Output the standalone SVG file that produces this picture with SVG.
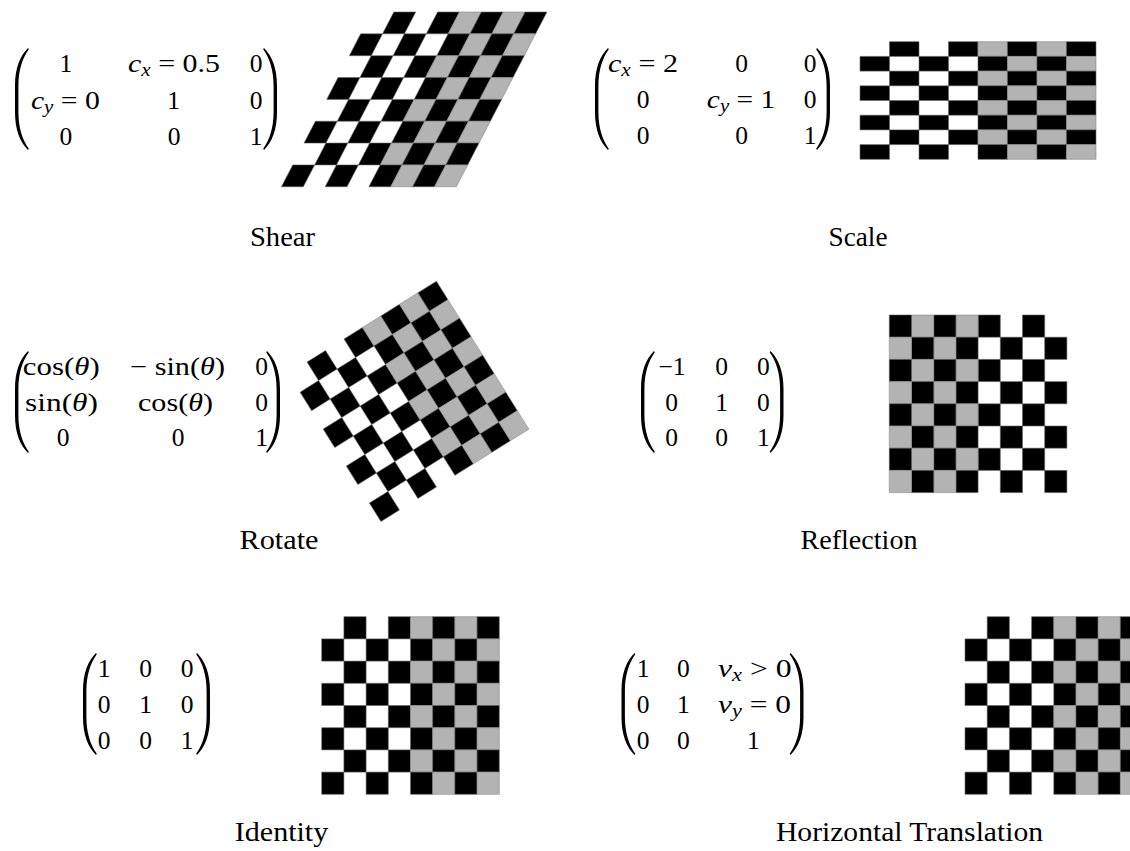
<svg xmlns="http://www.w3.org/2000/svg" xmlns:xlink="http://www.w3.org/1999/xlink" width="1130" height="851" viewBox="0 0 1130 851">
<style>
.m{font-family:"Liberation Serif","Times New Roman",serif;font-size:25.5px;fill:#000;text-anchor:middle}
.lbl{font-family:"Liberation Serif","Times New Roman",serif;font-size:27px;fill:#000;text-anchor:middle}
.i{font-style:italic}
.sub{font-size:18px;font-style:italic}
.k{fill:#000;stroke:#666;stroke-width:0.6}
.g{fill:#b3b3b3;stroke:#888;stroke-width:0.6}
.p{fill:#000}
</style>
<defs>
<path id="lp" class="p" d="M13,0 C5,8 0,20 0,38 L0,64 C0,82 5,94 13,102 L13.8,100.8 C7.5,92 3.4,80 3.4,64 L3.4,38 C3.4,22 7.5,10 13.8,1.2 Z"/>
<g id="rowE">
<rect class="k" x="22.2" y="0" width="22.2" height="22.2" vector-effect="non-scaling-stroke"/>
<rect class="k" x="66.6" y="0" width="22.2" height="22.2" vector-effect="non-scaling-stroke"/>
<rect class="g" x="88.8" y="0" width="22.2" height="22.2" vector-effect="non-scaling-stroke"/>
<rect class="k" x="111" y="0" width="22.2" height="22.2" vector-effect="non-scaling-stroke"/>
<rect class="g" x="133.2" y="0" width="22.2" height="22.2" vector-effect="non-scaling-stroke"/>
<rect class="k" x="155.4" y="0" width="22.2" height="22.2" vector-effect="non-scaling-stroke"/>
</g>
<g id="rowO">
<rect class="k" x="0" y="0" width="22.2" height="22.2" vector-effect="non-scaling-stroke"/>
<rect class="k" x="44.4" y="0" width="22.2" height="22.2" vector-effect="non-scaling-stroke"/>
<rect class="k" x="88.8" y="0" width="22.2" height="22.2" vector-effect="non-scaling-stroke"/>
<rect class="g" x="111" y="0" width="22.2" height="22.2" vector-effect="non-scaling-stroke"/>
<rect class="k" x="133.2" y="0" width="22.2" height="22.2" vector-effect="non-scaling-stroke"/>
<rect class="g" x="155.4" y="0" width="22.2" height="22.2" vector-effect="non-scaling-stroke"/>
</g>
<g id="board">
<use xlink:href="#rowE" href="#rowE"/>
<use xlink:href="#rowO" href="#rowO" y="22.2"/>
<use xlink:href="#rowE" href="#rowE" y="44.4"/>
<use xlink:href="#rowO" href="#rowO" y="66.6"/>
<use xlink:href="#rowE" href="#rowE" y="88.8"/>
<use xlink:href="#rowO" href="#rowO" y="111"/>
<use xlink:href="#rowE" href="#rowE" y="133.2"/>
<use xlink:href="#rowO" href="#rowO" y="155.4"/>
</g>
</defs>
<rect width="1130" height="851" fill="#fff"/>

<g id="shear">
<use href="#board" xlink:href="#board" transform="matrix(0.985,0,-0.51,0.984,372,12)"/>
<use href="#lp" xlink:href="#lp" transform="translate(15,48)"/>
<use href="#lp" xlink:href="#lp" transform="translate(277,48) scale(-1,1)"/>
<text class="m" x="65.8" y="72">1</text>
<text class="m" x="174" y="72" textLength="92" lengthAdjust="spacingAndGlyphs"><tspan class="i">c</tspan><tspan class="sub" dy="4">x</tspan><tspan dy="-4"> = 0.5</tspan></text>
<text class="m" x="256" y="72">0</text>
<text class="m" x="65.4" y="109" textLength="69" lengthAdjust="spacingAndGlyphs"><tspan class="i">c</tspan><tspan class="sub" dy="4">y</tspan><tspan dy="-4"> = 0</tspan></text>
<text class="m" x="173.5" y="109">1</text>
<text class="m" x="256" y="109">0</text>
<text class="m" x="65.8" y="145">0</text>
<text class="m" x="174" y="145">0</text>
<text class="m" x="256" y="145">1</text>
<text class="lbl" x="282.5" y="246" textLength="65" lengthAdjust="spacingAndGlyphs">Shear</text>
</g>

<g id="scale">
<use href="#board" xlink:href="#board" transform="translate(860,41.7) scale(1.3288,0.6622)"/>
<use href="#lp" xlink:href="#lp" transform="translate(595,48)"/>
<use href="#lp" xlink:href="#lp" transform="translate(830,48) scale(-1,1)"/>
<text class="m" x="643" y="72" textLength="70" lengthAdjust="spacingAndGlyphs"><tspan class="i">c</tspan><tspan class="sub" dy="4">x</tspan><tspan dy="-4"> = 2</tspan></text>
<text class="m" x="741.7" y="72">0</text>
<text class="m" x="810" y="72">0</text>
<text class="m" x="643" y="108">0</text>
<text class="m" x="741" y="108" textLength="68.3" lengthAdjust="spacingAndGlyphs"><tspan class="i">c</tspan><tspan class="sub" dy="4">y</tspan><tspan dy="-4"> = 1</tspan></text>
<text class="m" x="810" y="108">0</text>
<text class="m" x="643" y="144">0</text>
<text class="m" x="741.7" y="144">0</text>
<text class="m" x="810" y="144">1</text>
<text class="lbl" x="858" y="246" textLength="59" lengthAdjust="spacingAndGlyphs">Scale</text>
</g>

<g id="rotate">
<use href="#board" xlink:href="#board" transform="translate(408.7,401.4) rotate(-32) scale(0.982) translate(-88.8,-88.8)"/>
<use href="#lp" xlink:href="#lp" transform="translate(15,351)"/>
<use href="#lp" xlink:href="#lp" transform="translate(280,351) scale(-1,1)"/>
<text class="m" x="61.3" y="374.5" textLength="77" lengthAdjust="spacingAndGlyphs">cos(<tspan class="i">θ</tspan>)</text>
<text class="m" x="177.5" y="374.5" textLength="95" lengthAdjust="spacingAndGlyphs">− sin(<tspan class="i">θ</tspan>)</text>
<text class="m" x="261.7" y="374.5">0</text>
<text class="m" x="61.5" y="411" textLength="73" lengthAdjust="spacingAndGlyphs">sin(<tspan class="i">θ</tspan>)</text>
<text class="m" x="175.5" y="411" textLength="75" lengthAdjust="spacingAndGlyphs">cos(<tspan class="i">θ</tspan>)</text>
<text class="m" x="261.7" y="411">0</text>
<text class="m" x="63" y="446">0</text>
<text class="m" x="178" y="446">0</text>
<text class="m" x="261.7" y="446">1</text>
<text class="lbl" x="279" y="549" textLength="79" lengthAdjust="spacingAndGlyphs">Rotate</text>
</g>

<g id="reflection">
<use href="#board" xlink:href="#board" transform="translate(1066.9,315) scale(-1,1)"/>
<use href="#lp" xlink:href="#lp" transform="translate(641,351)"/>
<use href="#lp" xlink:href="#lp" transform="translate(783.5,351) scale(-1,1)"/>
<text class="m" x="672" y="374.5">−1</text>
<text class="m" x="721.7" y="374.5">0</text>
<text class="m" x="763.3" y="374.5">0</text>
<text class="m" x="671.7" y="411">0</text>
<text class="m" x="721.7" y="411">1</text>
<text class="m" x="763.3" y="411">0</text>
<text class="m" x="671.7" y="446">0</text>
<text class="m" x="721.7" y="446">0</text>
<text class="m" x="763.3" y="446">1</text>
<text class="lbl" x="859" y="549" textLength="117" lengthAdjust="spacingAndGlyphs">Reflection</text>
</g>

<g id="identity">
<use href="#board" xlink:href="#board" transform="translate(321.7,616.7)"/>
<use href="#lp" xlink:href="#lp" transform="translate(83,653)"/>
<use href="#lp" xlink:href="#lp" transform="translate(210,653) scale(-1,1)"/>
<text class="m" x="104" y="677">1</text>
<text class="m" x="145.5" y="677">0</text>
<text class="m" x="187" y="677">0</text>
<text class="m" x="104" y="713.3">0</text>
<text class="m" x="145.5" y="713.3">1</text>
<text class="m" x="187" y="713.3">0</text>
<text class="m" x="104" y="748.5">0</text>
<text class="m" x="145.5" y="748.5">0</text>
<text class="m" x="187" y="748.5">1</text>
<text class="lbl" x="281.5" y="841" textLength="93.5" lengthAdjust="spacingAndGlyphs">Identity</text>
</g>

<g id="translation">
<use href="#board" xlink:href="#board" transform="translate(965,616.7)"/>
<use href="#lp" xlink:href="#lp" transform="translate(621.5,653)"/>
<use href="#lp" xlink:href="#lp" transform="translate(803.5,653) scale(-1,1)"/>
<text class="m" x="643" y="677">1</text>
<text class="m" x="683.3" y="677">0</text>
<text class="m" x="754.8" y="677" textLength="73.7" lengthAdjust="spacingAndGlyphs"><tspan class="i">v</tspan><tspan class="sub" dy="4">x</tspan><tspan dy="-4"> &gt; 0</tspan></text>
<text class="m" x="643" y="713.3">0</text>
<text class="m" x="683.3" y="713.3">1</text>
<text class="m" x="754.5" y="713.3" textLength="73" lengthAdjust="spacingAndGlyphs"><tspan class="i">v</tspan><tspan class="sub" dy="4">y</tspan><tspan dy="-4"> = 0</tspan></text>
<text class="m" x="643" y="748.5">0</text>
<text class="m" x="683.3" y="748.5">0</text>
<text class="m" x="753.3" y="748.5">1</text>
<text class="lbl" x="909.5" y="841" textLength="267" lengthAdjust="spacingAndGlyphs">Horizontal Translation</text>
</g>
</svg>
